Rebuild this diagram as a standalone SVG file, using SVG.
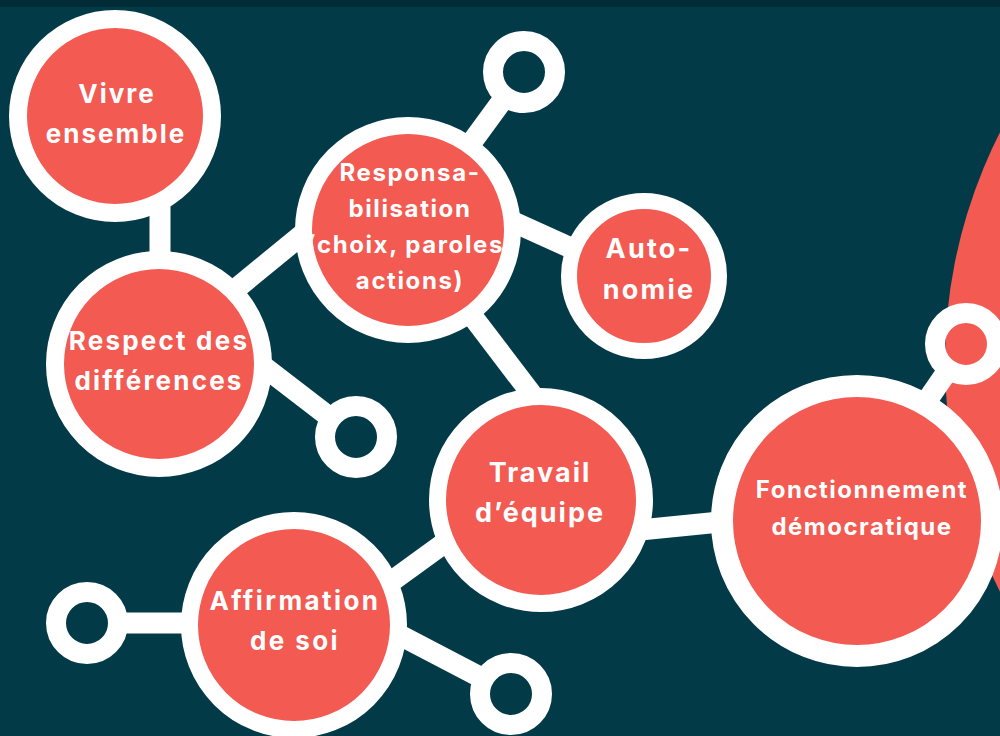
<svg xmlns="http://www.w3.org/2000/svg" width="1000" height="736" viewBox="0 0 1000 736">
<style>
.node{fill:#F25A52;stroke:#FFFFFF}
.ring{fill:none;stroke:#FFFFFF;stroke-width:20}
.conn line{stroke:#FFFFFF;stroke-width:21;stroke-linecap:butt}
text{font-family:Inter,"Open Sans","DejaVu Sans",sans-serif;font-weight:700;fill:#FFFFFF;text-anchor:middle}
</style>
<rect x="0" y="0" width="1000" height="736" fill="#023A47"/>
<rect x="0" y="0" width="1000" height="7" fill="#012C37"/>
<circle id="bg-node" cx="1452" cy="362" r="507" fill="#F25A52"/>
<g id="connectors" class="conn">
<line x1="160" y1="200" x2="160" y2="275"/>
<line x1="215" y1="306" x2="315" y2="224"/>
<line x1="450" y1="172" x2="502" y2="101"/>
<line x1="500" y1="216" x2="580" y2="252"/>
<line x1="460" y1="300" x2="540" y2="405"/>
<line x1="250" y1="356" x2="328" y2="416"/>
<line x1="370" y1="597" x2="465" y2="528"/>
<line x1="390" y1="630" x2="480" y2="677"/>
<line x1="124" y1="623" x2="200" y2="623"/>
<line x1="630" y1="531" x2="730" y2="521"/>
<line x1="900" y1="440" x2="946" y2="373"/>
</g>
<g id="ring-top"><circle class="ring" cx="524" cy="72" r="31"/></g>
<g id="ring-respect"><circle class="ring" cx="356" cy="437" r="31"/></g>
<g id="ring-left"><circle class="ring" cx="87" cy="623" r="31"/></g>
<g id="ring-bottom"><circle class="ring" cx="511" cy="694" r="31"/></g>
<g id="ring-right"><circle class="ring" cx="966" cy="344" r="31"/></g>
<g id="vivre">
<circle class="node" cx="115" cy="116" r="97" stroke-width="18"/>
<text x="117" y="103" font-size="26" letter-spacing="2">Vivre</text>
<text x="116" y="143" font-size="26" letter-spacing="2">ensemble</text>
</g>
<g id="respect">
<circle class="node" cx="159" cy="364" r="104" stroke-width="18"/>
<text x="159" y="350" font-size="26" letter-spacing="2.2">Respect des</text>
<text x="159" y="390" font-size="26" letter-spacing="2.2">différences</text>
</g>
<g id="responsabilisation">
<circle class="node" cx="408" cy="230" r="104.5" stroke-width="17"/>
<text x="410" y="181" font-size="24" letter-spacing="1.6">Responsa-</text>
<text x="410" y="217" font-size="24" letter-spacing="1.6">bilisation</text>
<text x="410" y="253" font-size="24" letter-spacing="1.6">(choix, paroles,</text>
<text x="410" y="289" font-size="24" letter-spacing="1.6">actions)</text>
</g>
<g id="autonomie">
<circle class="node" cx="644" cy="276" r="75" stroke-width="16"/>
<text x="649" y="258" font-size="27" letter-spacing="2.2">Auto-</text>
<text x="649" y="299" font-size="27" letter-spacing="2.2">nomie</text>
</g>
<g id="travail">
<circle class="node" cx="541" cy="500" r="103.5" stroke-width="17"/>
<text x="540" y="482" font-size="27" letter-spacing="2">Travail</text>
<text x="540" y="522" font-size="27" letter-spacing="2">d’équipe</text>
</g>
<g id="fonctionnement">
<circle class="node" cx="857" cy="521" r="135" stroke-width="22"/>
<text x="862" y="498" font-size="24" letter-spacing="1.5">Fonctionnement</text>
<text x="862" y="535" font-size="24" letter-spacing="1.5">démocratique</text>
</g>
<g id="affirmation">
<circle class="node" cx="294" cy="625" r="104.5" stroke-width="17"/>
<text x="295" y="610" font-size="26" letter-spacing="2.4">Affirmation</text>
<text x="295" y="650" font-size="26" letter-spacing="2.4">de soi</text>
</g>
</svg>
